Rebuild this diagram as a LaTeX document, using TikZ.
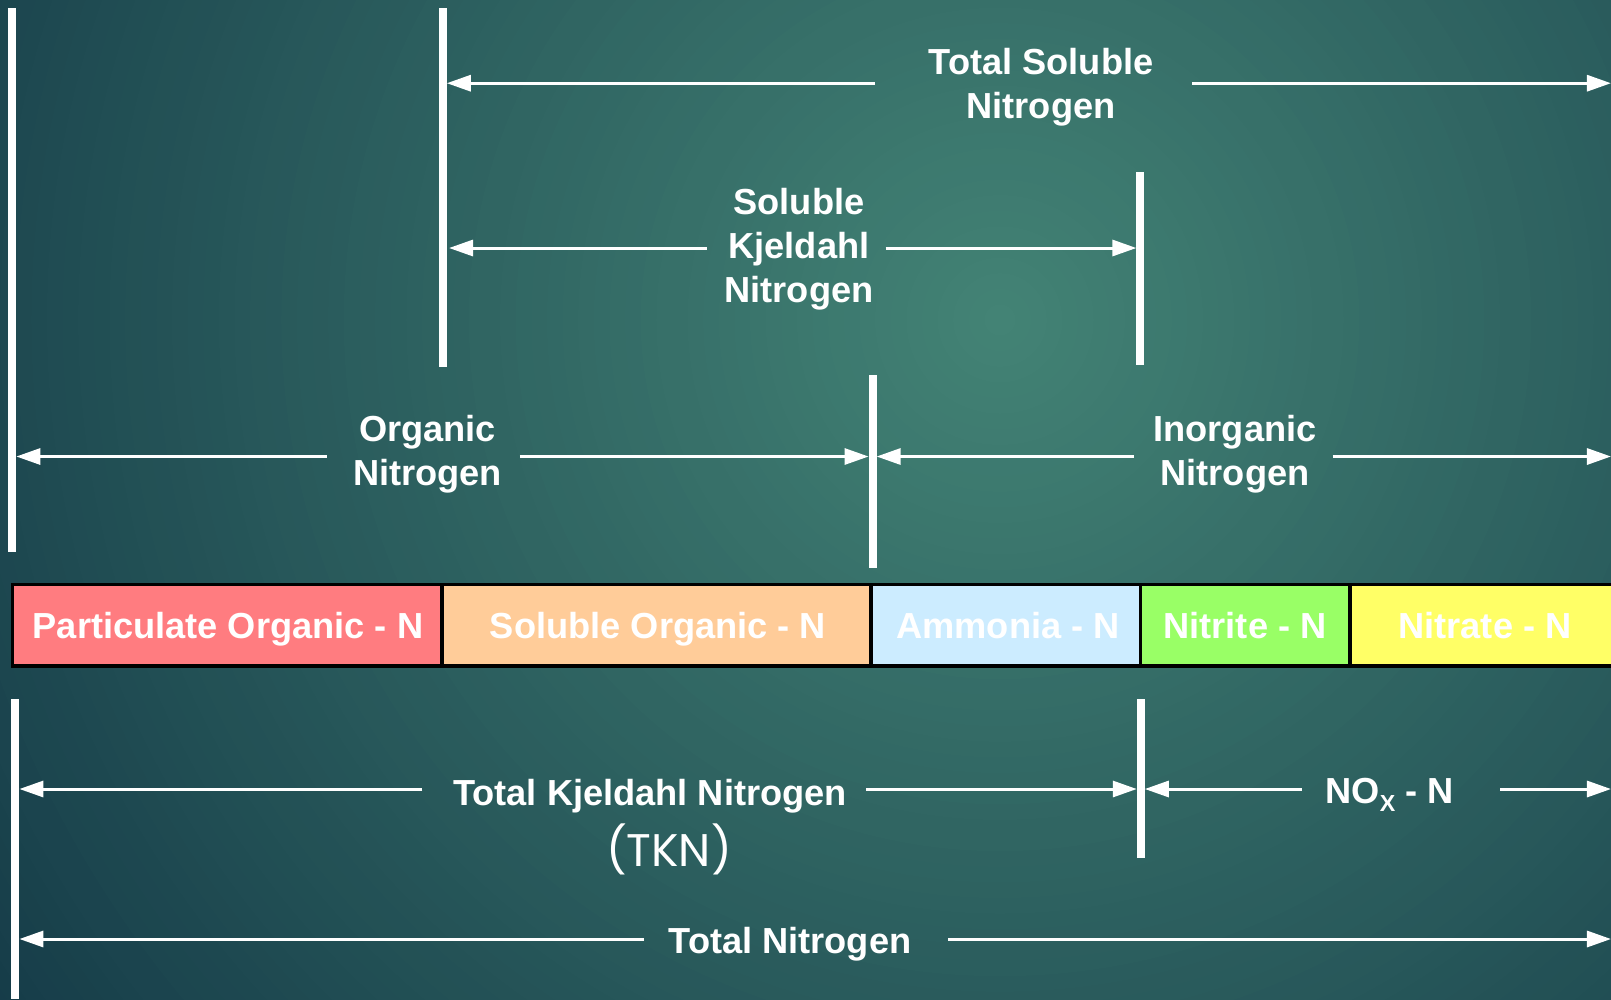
\documentclass[tikz,border=0pt]{standalone}
\usepackage{fontspec}
\setmainfont{Liberation Sans}
\newfontfamily\tknfont{Poppins}
\usetikzlibrary{arrows.meta}
\definecolor{bgin}{HTML}{438375}
\definecolor{bgout}{HTML}{153B48}
\definecolor{cpart}{HTML}{FF7C80}
\definecolor{csorg}{HTML}{FFCC99}
\definecolor{camm}{HTML}{CCECFF}
\definecolor{cnit}{HTML}{99FF66}
\definecolor{cnat}{HTML}{FFFF66}
\begin{document}
\begin{tikzpicture}[x=0.01cm,y=-0.01cm,
  vbar/.style={draw=white, line width=0.08cm},
  arr/.style={draw=white, line width=0.03cm, -{Triangle[length=0.24cm,width=0.16cm]}},
  lbl/.style={text=white, font=\fontsize{10.3}{12.5}\selectfont\bfseries, align=center, inner sep=0pt},
  tknlbl/.style={text=white, font=\tknfont\fontsize{13}{15}\selectfont, inner sep=0pt},
  cellbox/.style={draw=black, line width=0.035cm},
]
\useasboundingbox (0,0) rectangle (1611,999);
% background: stepped radial gradient
\begin{scope}
  \clip (0,0) rectangle (1611,999);
  \fill[bgout] (0,0) rectangle (1611,999);
  \foreach \i in {0,...,79} {
    \pgfmathsetmacro\rr{1250*(1-\i/80)}
    \pgfmathtruncatemacro\pp{100*\i/79}
    \fill[bgin!\pp!bgout] (1000,320) circle[radius=\rr];
  }
\end{scope}

% vertical bars
\coordinate (v1t) at (12.3,8);    \coordinate (v1b) at (12.3,552);
\coordinate (v2t) at (442.8,8);   \coordinate (v2b) at (442.8,367);
\coordinate (v3t) at (1140.4,172);\coordinate (v3b) at (1140.4,365);
\coordinate (v4t) at (872.6,375); \coordinate (v4b) at (872.6,568);
\coordinate (v5t) at (15.4,699);  \coordinate (v5b) at (15.4,999);
\coordinate (v6t) at (1140.8,699);\coordinate (v6b) at (1140.8,858);
\foreach \v in {1,...,6} {\draw[vbar] (v\v t) -- (v\v b);}

% labels
\node[lbl, anchor=north] (tsn) at (1041,48) {Total Soluble\\Nitrogen};
\node[lbl, anchor=north] (skn) at (799,188) {Soluble\\Kjeldahl\\Nitrogen};
\node[lbl, anchor=north] (orgn) at (427.5,415) {Organic\\Nitrogen};
\node[lbl, anchor=north] (inorgn) at (1235,415) {Inorganic\\Nitrogen};
\node[lbl, anchor=base] (tkn) at (650,805) {Total Kjeldahl Nitrogen};
\node[tknlbl, anchor=base] (tknab) at (669,866) {(TKN)};
\node[lbl, anchor=base] (nox) at (1389.5,803) {NO\raisebox{-2.4pt}{\fontsize{6.6}{7}\selectfont X} - N};
\node[lbl, anchor=base] (totn) at (790,953) {Total Nitrogen};

% arrow end points
\coordinate (tsA) at (875,83.2);   \coordinate (tsAt) at (446.8,83.2);
\coordinate (tsB) at (1192,83.2);  \coordinate (tsBt) at (1611,83.2);
\coordinate (skA) at (706.8,248);  \coordinate (skAt) at (449,248);
\coordinate (skB) at (885.6,248);  \coordinate (skBt) at (1136.4,248);
\coordinate (onA) at (326.7,456.5);\coordinate (onAt) at (16.3,456.5);
\coordinate (onB) at (519.9,456.5);\coordinate (onBt) at (868.6,456.5);
\coordinate (inA) at (1134.2,456.5);\coordinate (inAt) at (876.6,456.5);
\coordinate (inB) at (1332.5,456.5);\coordinate (inBt) at (1611,456.5);
\coordinate (tkA) at (422.3,789); \coordinate (tkAt) at (19.4,789);
\coordinate (tkB) at (866,789);   \coordinate (tkBt) at (1136.8,789);
\coordinate (nxA) at (1301.7,789);\coordinate (nxAt) at (1144.8,789);
\coordinate (nxB) at (1500,789);  \coordinate (nxBt) at (1611,789);
\coordinate (tnA) at (644,939);   \coordinate (tnAt) at (19.4,939);
\coordinate (tnB) at (948.3,939); \coordinate (tnBt) at (1611,939);
\foreach \a in {ts,sk,on,in,tk,nx,tn} {
  \draw[arr] (\a A) -- (\a At);
  \draw[arr] (\a B) -- (\a Bt);
}

% bar
\draw[cellbox, fill=cpart] (12.3,584.6) rectangle (441.8,665.8);
\draw[cellbox, fill=csorg] (441.8,584.6) rectangle (871.2,665.8);
\draw[cellbox, fill=camm]  (871.2,584.6) rectangle (1140.4,665.8);
\draw[cellbox, fill=cnit]  (1140.4,584.6) rectangle (1350,665.8);
\draw[cellbox, fill=cnat]  (1350,584.6) rectangle (1625,665.8);
\node[lbl, anchor=base] (pon) at (228,638) {Particulate Organic - N};
\node[lbl, anchor=base] (son) at (658,638) {Soluble Organic - N};
\node[lbl, anchor=base] (amn) at (1008,638) {Ammonia - N};
\node[lbl, anchor=base] (nin) at (1245,638) {Nitrite - N};
\node[lbl, anchor=base] (nan) at (1485,638) {Nitrate - N};
\end{tikzpicture}
\end{document}
